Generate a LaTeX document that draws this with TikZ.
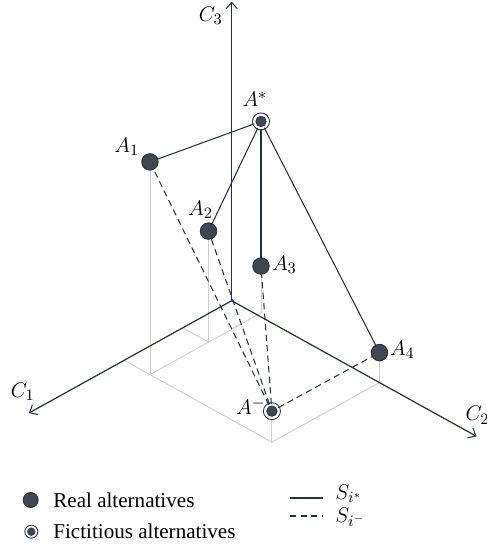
\documentclass[tikz,border=0pt]{standalone}
\usepackage{fontspec}
\setmainfont{Liberation Serif}
\usetikzlibrary{arrows.meta}
\definecolor{axisc}{RGB}{40,48,58}
\definecolor{ptfill}{RGB}{62,72,82}
\definecolor{projc}{RGB}{205,205,205}
\begin{document}
\begin{tikzpicture}[x={(-0.017492cm,-0.009696cm)}, y={(0.017492cm,-0.009696cm)}, z={(0cm,0.02cm)},
    >={Straight Barb[length=3.6pt,width=6.4pt,line width=0.6pt]},
    axis/.style={draw=axisc, line width=0.7pt, ->},
    proj/.style={draw=projc, line width=0.5pt},
    dist/.style={draw=axisc, line width=0.6pt, shorten <=-1pt, shorten >=-1pt},
    neg/.style={dist, dash pattern=on 3.6pt off 2.4pt},
    real/.style={circle, draw=axisc, fill=ptfill, line width=0.5pt, minimum size=0.33cm, inner sep=0pt},
    fict/.style={circle, draw=axisc, fill=white, line width=0.5pt, minimum size=0.34cm, inner sep=0pt,
      path picture={\fill[ptfill, draw=axisc, line width=0.4pt] (path picture bounding box.center) circle (0.105cm);}},
    lab/.style={font=\fontsize{12.5}{14}\selectfont, inner sep=0pt},
    txt/.style={font=\fontsize{12}{14}\selectfont, inner sep=0pt, anchor=west}]
  \useasboundingbox (-4.634cm,6.014cm) rectangle (5.106cm,-4.906cm);
  % axes
  \coordinate (o) at (0,0,0);
  \coordinate (c1) at (232,0,0);
  \coordinate (c2) at (0,280,0);
  \coordinate (c3) at (0,0,299);
  % ground points of the alternatives
  \coordinate (g1) at (123,29.5,0);
  \coordinate (g2) at (56,29.5,0);
  \coordinate (g3) at (-4,29.5,0);
  \coordinate (gm) at (123,169,0);
  \coordinate (g4) at (0,169,0);
  \coordinate (k1) at (123,0,0);
  \coordinate (k2) at (56,0,0);
  % projections
  \draw[proj] (k1) -- (g1) -- (gm) -- (g4);
  \draw[proj] (g1) -- (g3);
  \draw[proj] (k2) -- (g2);
  \draw[proj] (g1) -- (123,29.5,212.6);
  \draw[proj] (g2) -- (56,29.5,111);
  \draw[proj] (g3) -- (-4,29.5,47);
  \draw[proj] (gm) -- (123,169,31);
  \draw[proj] (g4) -- (0,169,30);
  \draw[axis] (o) -- (c1);
  \draw[axis] (o) -- (c2);
  \draw[axis] (o) -- (c3);
  \node[lab] (c1lbl) at ([shift={(-0.12cm,0.42cm)}]c1) {$C_1$};
  \node[lab] (c2lbl) at ([shift={(0.02cm,0.42cm)}]c2) {$C_2$};
  \node[lab] (c3lbl) at ([shift={(-0.42cm,-0.28cm)}]c3) {$C_3$};
  % alternatives
  \node[fict] (astar) at (-4,29.5,191.6) {};
  \node[real] (a1) at (123,29.5,212.6) {};
  \node[real] (a2) at (56,29.5,111) {};
  \node[real] (a3) at (-4,29.5,47) {};
  \node[real] (a4) at (0,169,30) {};
  \node[fict] (aneg) at (123,169,31) {};
  \node[lab] at ([shift={(-0.12cm,0.44cm)}]astar) {$A^*$};
  \node[lab] at ([shift={(-0.46cm,0.3cm)}]a1) {$A_1$};
  \node[lab] at ([shift={(-0.16cm,0.42cm)}]a2) {$A_2$};
  \node[lab] at ([shift={(0.47cm,0.02cm)}]a3) {$A_3$};
  \node[lab] at ([shift={(0.46cm,0.06cm)}]a4) {$A_4$};
  \node[lab] at ([shift={(-0.42cm,0.1cm)}]aneg) {$A^-$};
  % distances
  \foreach \a in {a1,a2,a3,a4} {
    \draw[dist] (astar) -- (\a);
    \draw[neg] (aneg) -- (\a);
  }
  % legend
  \node[real, minimum size=0.3cm] (lreal) at (-4.02cm,-3.986cm) {};
  \node[fict, minimum size=0.26cm, path picture={\fill[ptfill] (path picture bounding box.center) circle (0.085cm);}] (lfict) at (-4.008cm,-4.62cm) {};
  \node[txt] (treal) at (-3.574cm,-3.986cm) {Real alternatives};
  \node[txt] (tfict) at (-3.574cm,-4.62cm) {Fictitious alternatives};
  \coordinate (ls1) at (1.166cm,-3.946cm);
  \coordinate (ls2) at (1.826cm,-3.946cm);
  \coordinate (ln1) at (1.166cm,-4.306cm);
  \coordinate (ln2) at (1.826cm,-4.306cm);
  \draw[dist, shorten <=0pt, shorten >=0pt] (ls1) -- (ls2);
  \draw[neg, shorten <=0pt, shorten >=0pt] (ln1) -- (ln2);
  \node[lab, anchor=west] (sstar) at (2.066cm,-3.87cm) {$S_{i^*}$};
  \node[lab, anchor=west] (sneg) at (2.066cm,-4.33cm) {$S_{i^-}$};
\end{tikzpicture}
\end{document}
